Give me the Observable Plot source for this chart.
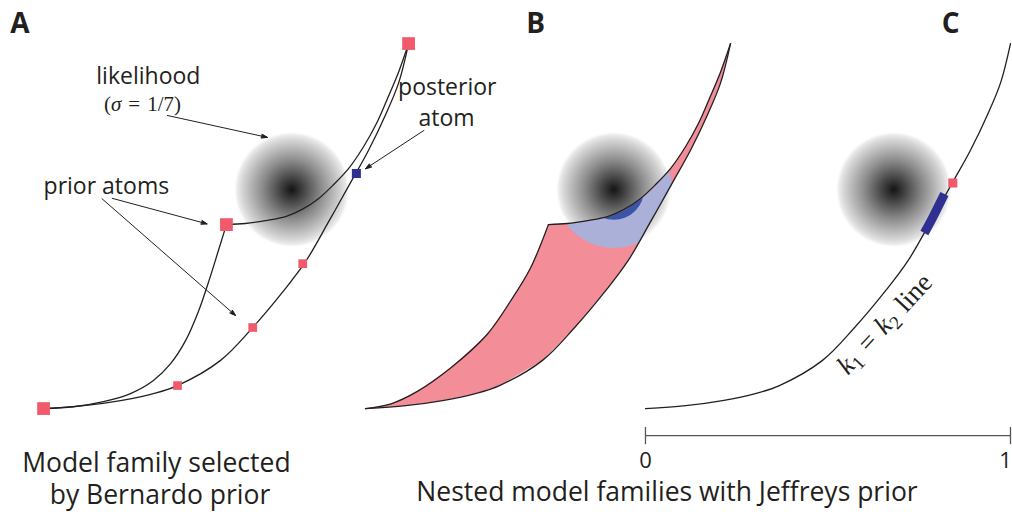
<!DOCTYPE html>
<html>
<head>
<meta charset="utf-8">
<script src="https://cdn.jsdelivr.net/npm/d3@7"></script>
<script src="https://cdn.jsdelivr.net/npm/@observablehq/plot@0.6"></script>
<style>
  html, body { margin: 0; padding: 0; background: #fff; }
</style>
</head>
<body>
<div id="chart"></div>
<pre id="log" style="font:11px monospace;margin:0"></pre>
<script>
// ---- Model manifold, in axis units, relative to each family's corner ----
// Left/lower edge of the single family (A): corner up to the kink
const lowerEdgeA = [[0, 0], [0.082, 0.005], [0.164, 0.019], [0.238, 0.041], [0.301, 0.077], [0.348, 0.123],
  [0.389, 0.186], [0.425, 0.268], [0.455, 0.356], [0.479, 0.433], [0.501, 0.504]];
// Left/lower edge of the nested families (B)
const lowerEdgeB = [[0, 0], [0.070, 0.013], [0.142, 0.047], [0.233, 0.111], [0.333, 0.203], [0.397, 0.294],
  [0.452, 0.385], [0.501, 0.504]];
// Upper edge: from the kink through the likelihood to the far corner
const upperEdge = [[0.501, 0.504], [0.553, 0.507], [0.608, 0.515], [0.663, 0.526], [0.707, 0.545], [0.753, 0.575],
  [0.795, 0.614], [0.836, 0.658], [0.877, 0.718], [0.912, 0.781], [0.942, 0.849], [0.973, 0.923], [1.0, 1.0]];
// The k1 = k2 line
const diagonalEdge = [[0, 0], [0.110, 0.008], [0.211, 0.022], [0.301, 0.041], [0.367, 0.063], [0.485, 0.132],
  [0.573, 0.222], [0.658, 0.323], [0.718, 0.403], [0.781, 0.512], [0.841, 0.619], [0.890, 0.707],
  [0.937, 0.805], [0.973, 0.893], [1.0, 1.0]];

// Likelihood (sigma = 1/7) and posterior regions
const blobCenter = [0.68, 0.60];
const blobRadius = 0.16;
const coreRadius = 0.083;

// Panels
const panelNames = ["A", "B", "C"];
const panelShift = [-1.649, -0.767, 0];

// Atoms of the priors
const bigAtoms = [[0, 0], [0.501, 0.504], [1.0, 1.0]];
const smallAtoms = [[0.367, 0.063], [0.573, 0.222], [0.710, 0.397]];
const posteriorAtom = [[0.857, 0.644]];
const jeffreysAtom = [[0.842, 0.618]];
const posteriorBar = [[0.764, 0.481], [0.781, 0.512], [0.819, 0.588]];

// Bottom axis
const axisTicks = [0, 1];

// ---- Frame (isotropic axis units) ----
const W = 1012, H = 515;
const xDomain = [-1.767, 1.0055];
const yDomain = [-0.293, 1.118];
const unit = W / (xDomain[1] - xDomain[0]); // pixels per axis unit

const ink = "#231f20";
const atomRed = "#f05a6b";
const atomBlue = "#2e3192";
const sans = "'Open Sans', 'Noto Sans', sans-serif";
const serif = "'Liberation Serif', 'DejaVu Serif', serif";

const shift = (pts, k) => pts.map(([x, y]) => ({x: x + panelShift[k], y}));
const tag = (pts, z) => pts.map((d) => ({...d, z}));

const edges = [
  ...tag(shift(lowerEdgeA, 0), "A-lower"),
  ...tag(shift(upperEdge, 0), "A-upper"),
  ...tag(shift(diagonalEdge, 0), "A-diag"),
  ...tag(shift(lowerEdgeB, 1), "B-lower"),
  ...tag(shift(upperEdge, 1), "B-upper"),
  ...tag(shift(diagonalEdge, 1), "B-diag"),
  ...tag(shift(diagonalEdge, 2), "C-diag")
];

const familyB = shift([...lowerEdgeB, ...upperEdge.slice(1), ...diagonalEdge.slice().reverse().slice(1)], 1);
const blobs = panelShift.map((s) => ({x: blobCenter[0] + s, y: blobCenter[1]}));
const blobB = [{x: blobCenter[0] + panelShift[1], y: blobCenter[1]}];

const pointers = [
  {x1: -1.310, y1: 0.803, x2: -1.036, y2: 0.743},
  {x1: -1.461, y1: 0.576, x2: -1.201, y2: 0.506},
  {x1: -1.489, y1: 0.575, x2: -1.123, y2: 0.255},
  {x1: -0.607, y1: 0.762, x2: -0.767, y2: 0.657}
];

const labels = [
  {x: -1.362, y: 0.888, text: "likelihood"},
  {x: -1.477, y: 0.589, text: "prior atoms"},
  {x: -0.543, y: 0.860, text: "posterior"},
  {x: -0.545, y: 0.775, text: "atom"}
];
const captions = [
  {x: -1.340, y: -0.175, text: "Model family selected"},
  {x: -1.330, y: -0.262, text: "by Bernardo prior"},
  {x: 0.059, y: -0.252, text: "Nested model families with Jeffreys prior"}
];
const panelTitles = panelNames.map((name, i) => ({x: [-1.714, -0.301, 0.836][i], y: 1.030, text: name}));

const marks = {
  blobs: Plot.dot(blobs, {x: "x", y: "y", r: blobRadius * unit, fill: "url(#likelihood)", stroke: "none"}),
  family: Plot.line(familyB, {x: "x", y: "y", fill: "#f38e99", stroke: "none"}),
  mass: Plot.dot(blobB, {x: "x", y: "y", r: blobRadius * unit, fill: "#aab0d8", stroke: "none"}),
  core: Plot.dot(blobB, {x: "x", y: "y", r: coreRadius * unit, fill: "#3b55a6", stroke: "none"}),
  edges: Plot.line(edges, {x: "x", y: "y", z: "z", curve: "catmull-rom", stroke: ink, strokeWidth: 1.3}),
  bar: Plot.line(shift(posteriorBar, 2), {x: "x", y: "y", curve: "catmull-rom", stroke: atomBlue, strokeWidth: 9, strokeLinecap: "butt"}),
  big: Plot.dot(shift(bigAtoms, 0), {x: "x", y: "y", symbol: "square", r: 7.2, fill: atomRed, stroke: "none"}),
  small: Plot.dot(shift(smallAtoms, 0), {x: "x", y: "y", symbol: "square", r: 4.9, fill: atomRed, stroke: "none"}),
  post: Plot.dot(shift(posteriorAtom, 0), {x: "x", y: "y", symbol: "square", r: 5.1, fill: atomBlue, stroke: "none"}),
  jeff: Plot.dot(shift(jeffreysAtom, 2), {x: "x", y: "y", symbol: "square", r: 5.1, fill: atomRed, stroke: "none"}),
  arrows: Plot.arrow(pointers, {x1: "x1", y1: "y1", x2: "x2", y2: "y2", stroke: ink, strokeWidth: 1, headLength: 9, headAngle: 36}),
  labels: Plot.text(labels, {x: "x", y: "y", text: "text", fontSize: 23, fontFamily: sans, fill: ink, textAnchor: "middle", lineAnchor: "bottom"}),
  sigma: Plot.text([{x: -1.378, y: 0.816, text: "(σ = 1/7)"}], {x: "x", y: "y", text: "text", fontSize: 21, fontFamily: serif, fill: ink, textAnchor: "middle", lineAnchor: "bottom"}),
  diag: Plot.text([{x: 0.655, y: 0.232, text: "k1 = k2 line"}], {x: "x", y: "y", text: "text", rotate: -47, fontSize: 27, fontFamily: serif, fill: ink, textAnchor: "middle", lineAnchor: "middle"}),
  titles: Plot.text(panelTitles, {x: "x", y: "y", text: "text", fontSize: 28, fontWeight: "bold", fontFamily: sans, fill: ink, textAnchor: "middle", lineAnchor: "bottom"}),
  captions: Plot.text(captions, {x: "x", y: "y", text: "text", fontSize: 26.5, fontFamily: sans, fill: ink, textAnchor: "middle", lineAnchor: "bottom"}),
  axisLine: Plot.ruleY([-0.074], {x1: axisTicks[0], x2: axisTicks[1], stroke: "#555", strokeWidth: 1.3}),
  axisTicks: Plot.ruleX(axisTicks, {x: (d) => d, y1: -0.052, y2: -0.099, stroke: "#555", strokeWidth: 1.3}),
  axisLow: Plot.text(axisTicks.slice(0, 1), {x: (d) => d, y: -0.1616, text: (d) => String(d), fontSize: 22, fontFamily: sans, fill: ink, textAnchor: "middle", lineAnchor: "bottom"}),
  axisHigh: Plot.text(axisTicks.slice(1), {x: (d) => d, y: -0.1616, text: (d) => String(d), dx: -5, fontSize: 22, fontFamily: sans, fill: ink, textAnchor: "middle", lineAnchor: "bottom"})
};
const order = Object.keys(marks);

const plot = Plot.plot({
  width: W,
  height: H,
  margin: 0,
  x: {domain: xDomain, range: [0, W], axis: null},
  y: {domain: yDomain, range: [H, 0], axis: null},
  style: {background: "#fff", overflow: "visible"},
  marks: order.map((k) => marks[k])
});
document.getElementById("chart").append(plot);

// Mark groups in drawing order
const groups = Array.from(plot.children).filter((n) => n.tagName.toLowerCase() === "g");
const layer = (k) => groups[order.indexOf(k)];

try {
  const svg = d3.select(plot);
  const defs = svg.insert("defs", ":first-child");

  // Gaussian-looking likelihood cloud
  const grad = defs.append("radialGradient").attr("id", "likelihood");
  [[0, "#141414", 1], [0.1, "#2c2c2c", 1], [0.3, "#5c5c5c", 1], [0.5, "#8b8b8b", 1],
   [0.7, "#b5b5b5", 1], [0.85, "#d5d5d5", 1], [0.94, "#ececec", 1], [1, "#ffffff", 0]]
    .forEach(([o, c, a]) => grad.append("stop").attr("offset", o).attr("stop-color", c).attr("stop-opacity", a));

  // Posterior regions live only inside family B
  const familyPath = layer("family").querySelector("path");
  const clip = defs.append("clipPath").attr("id", "family-b-clip").append("path").attr("d", familyPath.getAttribute("d"));
  const tr = layer("family").getAttribute("transform");
  if (tr) clip.attr("transform", tr);
  d3.selectAll([layer("mass"), layer("core")]).attr("clip-path", "url(#family-b-clip)");

  // Solid arrowheads
  d3.select(layer("arrows")).selectAll("path").each(function () {
    const parts = this.getAttribute("d").split("M").filter(Boolean);
    const head = parts[parts.length - 1];
    d3.select(this.parentNode).append("path").attr("d", "M" + head + "Z").attr("fill", ink).attr("stroke", ink).attr("stroke-width", 0.5);
  });

  // Math typesetting for the two formula labels
  function typeset(k, pieces) {
    const t = d3.select(layer(k)).select("text");
    t.text(null);
    pieces.forEach(([s, opts = {}]) => {
      const ts = t.append("tspan").text(s);
      if (opts.italic) ts.attr("font-style", "italic");
      if (opts.size) ts.attr("font-size", opts.size);
      if (opts.dy) ts.attr("dy", opts.dy);
    });
  }
  typeset("sigma", [["("], ["σ", {italic: true}], ["\u2004=\u20041/7)"]]);
  typeset("diag", [
    ["k", {italic: true}], ["1", {size: "19px", dy: "5px"}], ["\u2004=\u2004", {dy: "-5px"}],
    ["k", {italic: true}], ["2", {size: "19px", dy: "5px"}], ["\u2004line", {dy: "-5px"}]
  ]);
} catch (e) {
  document.getElementById("log").textContent = e.stack;
}
</script>
</body>
</html>
